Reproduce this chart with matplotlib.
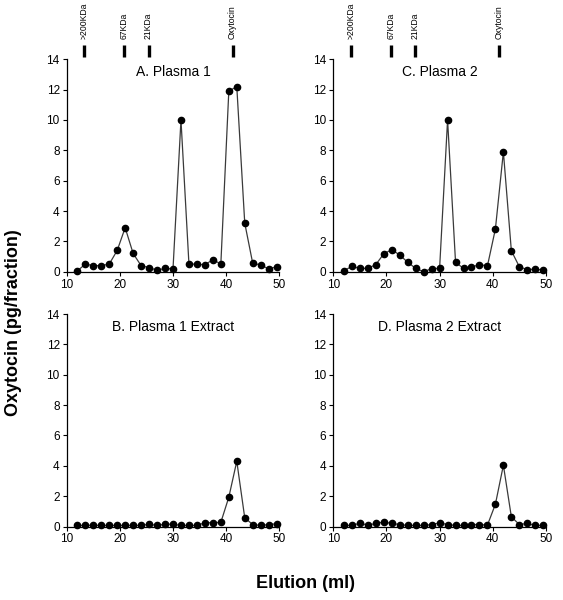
import matplotlib
matplotlib.use("Agg")
import matplotlib.pyplot as plt
import numpy as np

plt.rcParams['font.family'] = ['Liberation Sans', 'DejaVu Sans']

elution = [12 + 1.5 * i for i in range(26)]

plasma1 = [0.05, 0.5, 0.4, 0.4, 0.5, 1.4, 2.9, 1.2, 0.4, 0.27, 0.1, 0.22, 0.18,
           10.0, 0.5, 0.5, 0.45, 0.8, 0.5, 11.9, 12.2, 3.2, 0.55, 0.45, 0.18, 0.33]
plasma1_extract = [0.07, 0.07, 0.08, 0.07, 0.07, 0.07, 0.07, 0.07, 0.07, 0.15, 0.07, 0.15, 0.15,
                   0.07, 0.07, 0.07, 0.25, 0.25, 0.27, 1.93, 4.3, 0.57, 0.13, 0.07, 0.13, 0.18]
plasma2 = [0.07, 0.35, 0.22, 0.22, 0.47, 1.18, 1.45, 1.1, 0.62, 0.22, 0.0, 0.2, 0.22,
           10.0, 0.62, 0.22, 0.3, 0.47, 0.38, 2.82, 7.9, 1.38, 0.33, 0.13, 0.18, 0.1]
plasma2_extract = [0.07, 0.07, 0.22, 0.09, 0.2, 0.3, 0.2, 0.13, 0.07, 0.07, 0.07, 0.13, 0.24,
                   0.13, 0.07, 0.07, 0.13, 0.13, 0.09, 1.47, 4.04, 0.64, 0.13, 0.2, 0.07, 0.07]

titles = ["A. Plasma 1", "B. Plasma 1 Extract", "C. Plasma 2", "D. Plasma 2 Extract"]
marker_names = [">200KDa", "67KDa", "21KDa", "Oxytocin"]
marker_pos = [13.3, 20.8, 25.4, 41.2]

fig = plt.figure(figsize=(5.63, 6.0), dpi=100)
W, H = 563, 600

def make_ax(left_px, zero_px):
    return fig.add_axes([left_px / W, (H - zero_px) / H, 212.6 / W, 212.4 / H])

axes = {
    "A": make_ax(66.7, 271.7),
    "B": make_ax(66.7, 526.5),
    "C": make_ax(333.3, 271.7),
    "D": make_ax(333.3, 526.5),
}
series = {"A": plasma1, "B": plasma1_extract, "C": plasma2, "D": plasma2_extract}
tmap = {"A": titles[0], "B": titles[1], "C": titles[2], "D": titles[3]}

for key, ax in axes.items():
    ax.plot(elution, series[key], color='#3a3a3a', lw=0.9, marker='o', ms=4.5,
            mfc='black', mec='black', clip_on=False, zorder=3)
    ax.set_xlim(10, 50)
    ax.set_ylim(0, 14)
    ax.set_xticks([10, 20, 30, 40, 50])
    ax.set_yticks(range(0, 15, 2))
    for s in ['top', 'right']:
        ax.spines[s].set_visible(False)
    for s in ['left', 'bottom']:
        ax.spines[s].set_linewidth(0.9)
    ax.tick_params(direction='out', length=3, width=0.8, labelsize=8.5,
                   colors='black', pad=2)
    ax.text(0.5, 0.94, tmap[key], transform=ax.transAxes, ha='center', va='center',
            fontsize=10)
    if key in ("A", "C"):
        for name, pos in zip(marker_names, marker_pos):
            ax.plot([pos, pos], [1.011, 1.067], transform=ax.get_xaxis_transform(),
                    color='black', lw=2.4, clip_on=False, solid_capstyle='butt')
            ax.text(pos, 1.096, name, transform=ax.get_xaxis_transform(),
                    rotation=90, ha='center', va='bottom', fontsize=6.2)

fig.text(14 / W, 1 - 323 / H, "Oxytocin (pg/fraction)", rotation=90, ha='center',
         va='center', fontsize=13, fontweight='bold')
fig.text(305 / W, 1 - 583 / H, "Elution (ml)", ha='center', va='center',
         fontsize=13, fontweight='bold')

fig.savefig("out.png", dpi=100)
